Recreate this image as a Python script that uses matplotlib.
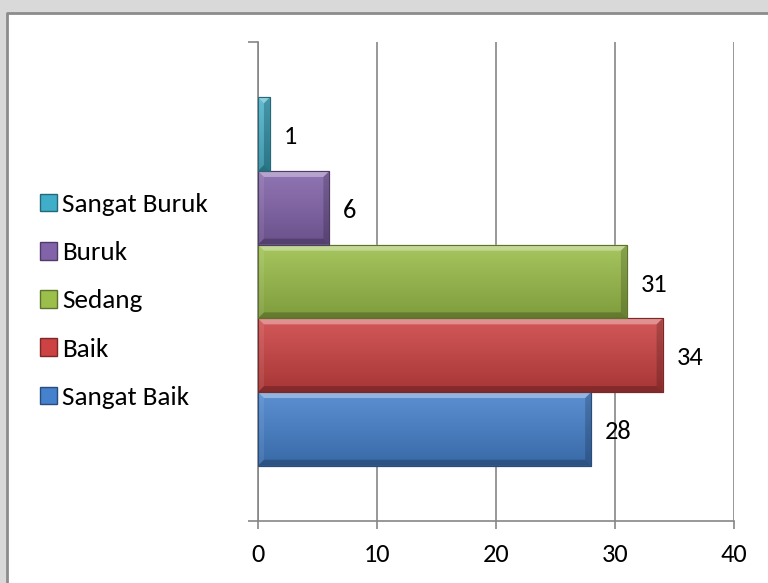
import matplotlib
matplotlib.use('Agg')
import matplotlib.pyplot as plt
from matplotlib.patches import Rectangle, Polygon, Patch
from matplotlib.lines import Line2D
from matplotlib.colors import to_rgb
import numpy as np

plt.rcParams['font.family'] = ['Carlito', 'Lato', 'DejaVu Sans']

# data
kategori = ['Sangat Baik', 'Baik', 'Sedang', 'Buruk', 'Sangat Buruk']
jumlah = [28, 34, 31, 6, 1]
warna = ['#4581cc', '#cd4242', '#9bbf4a', '#8263aa', '#40aec8']
xticks = [0, 10, 20, 30, 40]


def mix(c, t, amt):
    c = np.array(to_rgb(c))
    return tuple(c + (np.array(t) - c) * amt)


W, H = 768, 583
fig = plt.figure(figsize=(W / 100, H / 100), dpi=100)
fig.patch.set_facecolor('#d9d9d9')

# white chart area with grey border on left and top
x_l, y_t = 7 / W, (H - 13) / H
fig.patches.append(Rectangle((x_l, 0), 1 - x_l, y_t, transform=fig.transFigure,
                             facecolor='white', edgecolor='none', zorder=-5))
fig.add_artist(Line2D([x_l, x_l, 1], [0, y_t, y_t], transform=fig.transFigure,
                      color='#8c8c8c', lw=2, zorder=-4))

ax = fig.add_axes([258 / W, (H - 521) / H, (734 - 258) / W, (521 - 42) / H])
ax.set_zorder(2)
ax.set_facecolor('none')

n = len(jumlah)
gap = 1.5
h = 1.0 / (n + gap)
pos = [-0.5 + gap * h / 2 + h * (i + 0.5) for i in range(n)]

bars = ax.barh(pos, jumlah, height=h, color=warna, zorder=2,
               edgecolor=[mix(c, (0, 0, 0), 0.4) for c in warna], lw=0.8)

# gradient fill + bevel on each bar
sx = (734 - 258) / 40.0
sy = (521 - 42) / 1.0
bev = 6
t = np.linspace(0, 1, 64)[:, None]
for b, c in zip(bars, warna):
    x0, y0 = b.get_x(), b.get_y()
    x1, y1 = x0 + b.get_width(), y0 + b.get_height()
    top = np.array(mix(c, (1, 1, 1), 0.12))
    bot = np.array(mix(c, (0, 0, 0), 0.18))
    grad = (bot + (top - bot) * t)[:, None, :]
    im = ax.imshow(grad, extent=(x0, x1, y0, y1), origin='lower',
                   aspect='auto', zorder=2.5, interpolation='bilinear')
    im.set_clip_path(b)
    bpx = min(bev, b.get_width() * sx / 2)
    bx, by = bpx / sx, bev / sy
    faces = [
        ([(x0, y1), (x1, y1), (x1 - bx, y1 - by), (x0 + bx, y1 - by)], (1, 1, 1), 0.35),
        ([(x0, y0), (x1, y0), (x1 - bx, y0 + by), (x0 + bx, y0 + by)], (0, 0, 0), 0.22),
        ([(x0, y0), (x0, y1), (x0 + bx, y1 - by), (x0 + bx, y0 + by)], (1, 1, 1), 0.08),
        ([(x1, y0), (x1, y1), (x1 - bx, y1 - by), (x1 - bx, y0 + by)], (0, 0, 0), 0.18),
    ]
    for pts, fc, a in faces:
        ax.add_patch(Polygon(pts, closed=True, facecolor=fc, alpha=a,
                             edgecolor='none', zorder=3))
    ax.add_patch(Rectangle((x0, y0), x1 - x0, y1 - y0, facecolor='none',
                           edgecolor=mix(c, (0, 0, 0), 0.4), lw=0.8, zorder=4))

for p, v in zip(pos, jumlah):
    ax.annotate(str(v), (v, p), xytext=(10, -2), textcoords='offset points',
                ha='left', va='center', fontsize=19, color='black')

ax.set_xlim(0, 40)
ax.set_ylim(-0.5, 0.5)
ax.set_xticks(xticks)
ax.set_yticks([-0.5, 0.5])
ax.set_yticklabels([])
ax.grid(axis='x', color='#868686', lw=1.2, zorder=1)
ax.set_axisbelow(True)
for s in ['top', 'right']:
    ax.spines[s].set_visible(False)
for s in ['left', 'bottom']:
    ax.spines[s].set_color('#868686')
    ax.spines[s].set_linewidth(1.2)
ax.tick_params(axis='x', direction='out', length=6, width=1.2, color='#868686',
               labelsize=19, pad=10)
ax.tick_params(axis='y', direction='out', length=7, width=1.2, color='#868686')

handles = [Patch(facecolor=c, edgecolor=mix(c, (0, 0, 0), 0.4), label=k)
           for k, c in zip(kategori, warna)][::-1]
fig.legend(handles=handles, loc='center left', bbox_to_anchor=(29 / W, (H - 301) / H),
           frameon=False, fontsize=19.5, handlelength=0.62, handleheight=0.62,
           handletextpad=0.2, labelspacing=0.93, borderaxespad=0)

fig.savefig('out.png', dpi=100, facecolor=fig.get_facecolor())
